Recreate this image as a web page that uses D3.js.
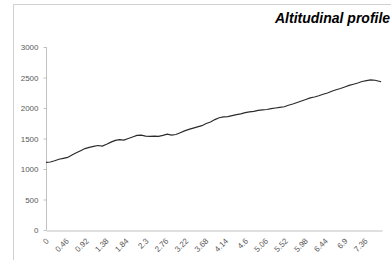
<!DOCTYPE html>
<html>
<head>
<meta charset="utf-8">
<script src="https://cdn.jsdelivr.net/npm/d3@7"></script>
<style>
  body { margin: 0; background: #fff; }
  .axis text { font-family: "Liberation Sans", Arial, sans-serif; font-size: 8px; fill: #595959; }
  .axis path, .axis line { stroke: #c0c0c0; }
</style>
</head>
<body>
<div id="chart"></div>
<script>
// distance (km) and altitude (m)
var distance = [0, 0.1, 0.2, 0.3, 0.4, 0.5, 0.6, 0.7, 0.8, 0.9,
                1.0, 1.1, 1.2, 1.3, 1.4, 1.5, 1.6, 1.7, 1.8, 1.9,
                2.0, 2.1, 2.2, 2.3, 2.4, 2.5, 2.6, 2.7, 2.8, 2.9,
                3.0, 3.1, 3.2, 3.3, 3.4, 3.5, 3.6, 3.7, 3.8, 3.9,
                4.0, 4.1, 4.2, 4.3, 4.4, 4.5, 4.6, 4.7, 4.8, 4.9,
                5.0, 5.1, 5.2, 5.3, 5.4, 5.5, 5.6, 5.7, 5.8, 5.9,
                6.0, 6.1, 6.2, 6.3, 6.4, 6.5, 6.6, 6.7, 6.8, 6.9,
                7.0, 7.1, 7.2, 7.3, 7.4, 7.5, 7.6, 7.74];
var altitude = [1110, 1115, 1135, 1160, 1175, 1190, 1230, 1265, 1300, 1335,
                1355, 1370, 1385, 1375, 1405, 1440, 1470, 1480, 1475, 1500,
                1525, 1550, 1555, 1540, 1535, 1540, 1535, 1550, 1570, 1555,
                1565, 1595, 1625, 1650, 1670, 1690, 1710, 1745, 1770, 1810,
                1840, 1855, 1860, 1875, 1890, 1905, 1925, 1935, 1945, 1960,
                1970, 1975, 1990, 2000, 2010, 2020, 2045, 2065, 2090, 2115,
                2140, 2165, 2180, 2200, 2225, 2245, 2275, 2300, 2320, 2345,
                2370, 2390, 2410, 2435, 2450, 2460, 2455, 2430];
var xTicks = [0, 0.46, 0.92, 1.38, 1.84, 2.3, 2.76, 3.22, 3.68, 4.14,
              4.6, 5.06, 5.52, 5.98, 6.44, 6.9, 7.36];
var yTicks = [0, 500, 1000, 1500, 2000, 2500, 3000];
var title = "Altitudinal profile";

var data = distance.map(function (d, i) { return { km: d, alt: altitude[i] }; });

var width = 391, height = 260;

var svg = d3.select("#chart")
    .append("svg")
    .attr("width", width)
    .attr("height", height);

// chart frame (cut off at right and bottom)
svg.append("path")
    .attr("d", "M13.5,260 V4.5 H391")
    .attr("fill", "none")
    .attr("stroke", "#d0d0d0");

var x = d3.scaleLinear().domain([0, 7.76]).range([46, 382]),
    y = d3.scaleLinear().domain([0, 3000]).range([230, 47]);

svg.append("g")
    .attr("class", "axis axis--y")
    .attr("transform", "translate(46.5,0)")
    .call(d3.axisLeft(y).tickValues(yTicks).tickFormat(d3.format("d"))
        .tickSize(3).tickSizeOuter(0).tickPadding(5))
    .call(function (g) { g.select(".domain").attr("d", "M0," + y(3000) + "V" + y(0)); });

var xAxis = svg.append("g")
    .attr("class", "axis axis--x")
    .attr("transform", "translate(0,230.5)")
    .call(d3.axisBottom(x).tickValues(xTicks).tickSize(0).tickSizeOuter(0)
        .tickFormat(function (d) { return String(d); }));

xAxis.selectAll("text")
    .attr("text-anchor", "end")
    .attr("dy", null)
    .attr("y", 0)
    .attr("transform", "translate(3,11) rotate(-45)");

var line = d3.line()
    .x(function (d) { return x(d.km); })
    .y(function (d) { return y(d.alt); });

svg.append("path")
    .datum(data)
    .attr("fill", "none")
    .attr("stroke", "#2b2b2b")
    .attr("stroke-width", 1.2)
    .attr("d", line);

svg.append("text")
    .attr("x", 275)
    .attr("y", 23)
    .attr("font-family", "Liberation Sans, Arial, sans-serif")
    .attr("font-size", "14px")
    .attr("font-weight", "bold")
    .attr("font-style", "italic")
    .attr("fill", "#000")
    .text(title);
</script>
</body>
</html>
